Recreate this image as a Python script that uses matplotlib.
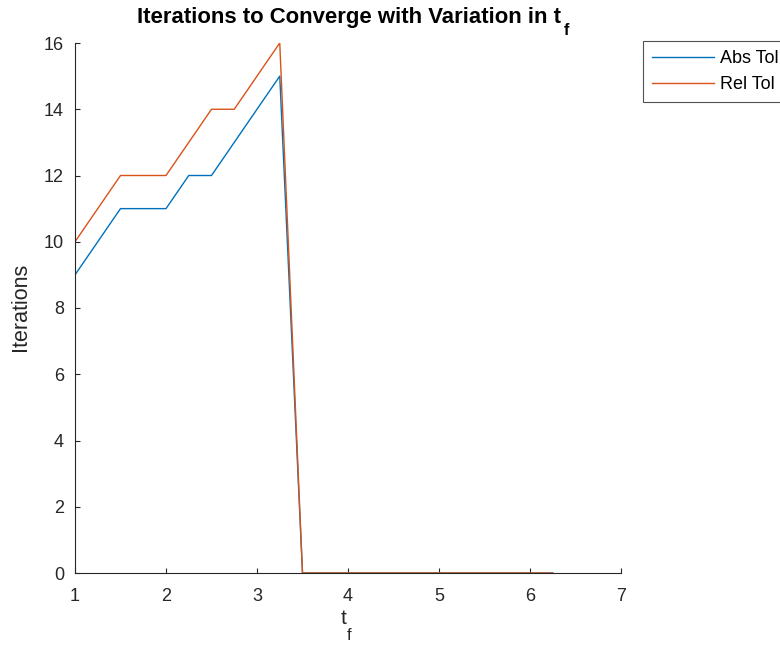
import numpy as np
import matplotlib
matplotlib.use("Agg")
import matplotlib.pyplot as plt

plt.rcParams['font.family'] = ['Liberation Sans', 'DejaVu Sans']

tf = [1.0, 1.25, 1.5, 1.75, 2.0, 2.25, 2.5, 2.75, 3.0, 3.25, 3.5,
      3.75, 4.0, 4.25, 4.5, 4.75, 5.0, 5.25, 5.5, 5.75, 6.0, 6.25]
abs_tol_iters = [9, 10, 11, 11, 11, 12, 12, 13, 14, 15, 0,
                 0, 0, 0, 0, 0, 0, 0, 0, 0, 0, 0]
rel_tol_iters = [10, 11, 12, 12, 12, 13, 14, 14, 15, 16, 0,
                 0, 0, 0, 0, 0, 0, 0, 0, 0, 0, 0]
x_ticks = [1, 2, 3, 4, 5, 6, 7]
y_ticks = [0, 2, 4, 6, 8, 10, 12, 14, 16]

W, H = 780, 647
fig = plt.figure(figsize=(W / 100, H / 100), dpi=100)
ax = fig.add_axes([75 / W, 1 - 573 / H, (621 - 75) / W, (573 - 43) / H])

ax.plot(tf, abs_tol_iters, color='#0072BD', lw=1.0, label='Abs Tol')
ax.plot(tf, rel_tol_iters, color='#D95319', lw=1.0, label='Rel Tol')

ax.set_xlim(1, 7)
ax.set_ylim(0, 16)
ax.set_xticks(x_ticks)
ax.set_yticks(y_ticks)

axis_col = '#262626'
for s in ['top', 'right']:
    ax.spines[s].set_visible(False)
for s in ['left', 'bottom']:
    ax.spines[s].set_color(axis_col)
    ax.spines[s].set_linewidth(0.8)
ax.tick_params(direction='in', length=3.5, width=0.8, colors=axis_col,
               labelsize=13, labelcolor=axis_col)
ax.tick_params(axis='x', pad=11)
ax.tick_params(axis='y', pad=8)


def px(x, y_from_top):
    return x / W, 1 - y_from_top / H


def subscript_after(txt, sub, dy_px, gap_px, **kw):
    """Place a subscript right after an existing text, dy_px below its baseline."""
    fig.canvas.draw()
    bb = txt.get_window_extent(fig.canvas.get_renderer())
    x_left = bb.x1 + gap_px
    base_from_top = H - txt.get_position()[1] * H + dy_px
    return fig.text(*px(x_left, base_from_top), sub, ha='left', va='baseline', **kw)


# Title with a subscripted t_f
title = fig.text(*px(137, 23), 'Iterations to Converge with Variation in t',
                 ha='left', va='baseline', fontsize=16, fontweight='bold')
fig.canvas.draw()
w = title.get_window_extent(fig.canvas.get_renderer()).width
title.set_fontsize(16 * 423 / w)
subscript_after(title, 'f', 12, 3, fontsize=11.5, fontweight='bold')

# x label t_f
xl = fig.text(*px(343.5, 624), 't', ha='center', va='baseline',
              fontsize=15, color=axis_col)
subscript_after(xl, 'f', 16, 0, fontsize=12, color=axis_col)

# y label
fig.text(*px(20.5, 306.5), 'Iterations', rotation=90, ha='center', va='center',
         fontsize=15.5, color=axis_col)

leg = fig.legend(loc='upper left', bbox_to_anchor=(643 / W, 1 - 41 / H),
                 fontsize=13, frameon=True, fancybox=False,
                 handlelength=3.44, handletextpad=0.3, borderaxespad=0,
                 borderpad=0.5, labelspacing=0.5)
leg.get_frame().set_edgecolor(axis_col)
leg.get_frame().set_linewidth(0.8)

fig.savefig('out.png', dpi=100)
